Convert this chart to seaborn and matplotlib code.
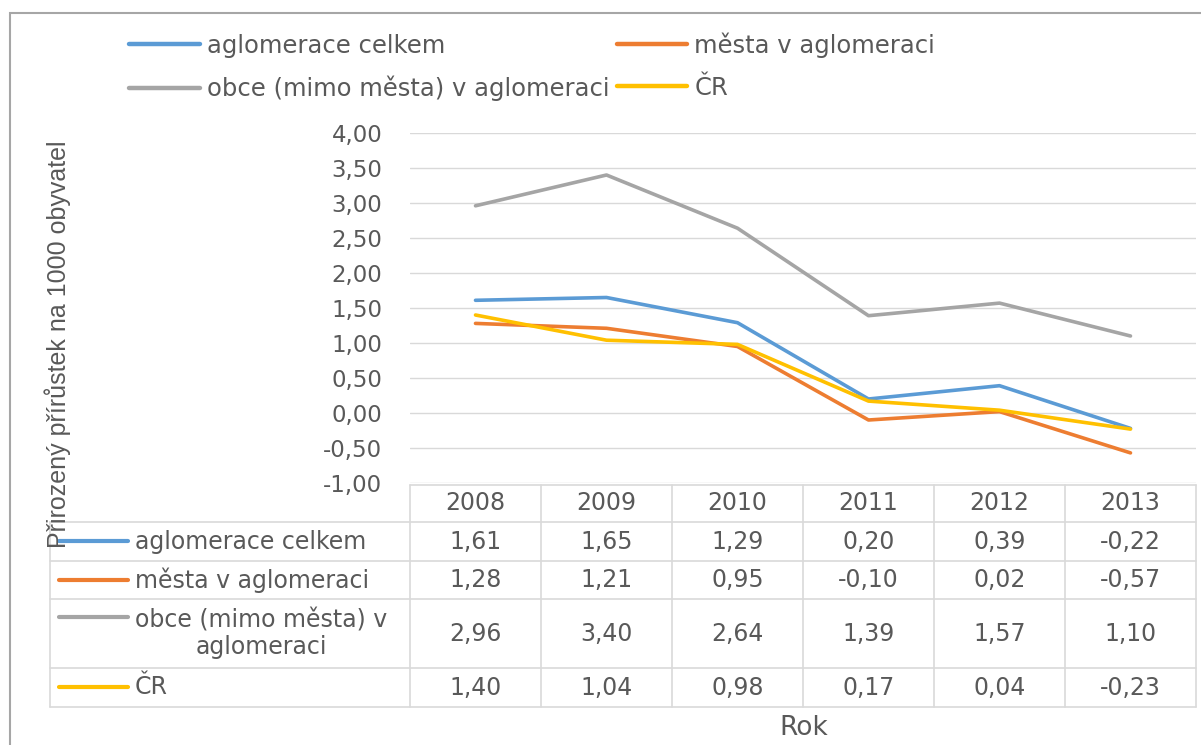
import numpy as np
import pandas as pd
import matplotlib
matplotlib.use("Agg")
import matplotlib.pyplot as plt
from matplotlib.lines import Line2D
from matplotlib.patches import Rectangle
import seaborn as sns

years = [2008, 2009, 2010, 2011, 2012, 2013]
series_names = ["aglomerace celkem", "města v aglomeraci",
                "obce (mimo města) v aglomeraci", "ČR"]
aglomerace = [1.61, 1.65, 1.29, 0.20, 0.39, -0.22]
mesta = [1.28, 1.21, 0.95, -0.10, 0.02, -0.57]
obce = [2.96, 3.40, 2.64, 1.39, 1.57, 1.10]
cr = [1.40, 1.04, 0.98, 0.17, 0.04, -0.23]
colors = ["#5B9BD5", "#ED7D31", "#A5A5A5", "#FFC000"]
y_ticks = [-1.0, -0.5, 0.0, 0.5, 1.0, 1.5, 2.0, 2.5, 3.0, 3.5, 4.0]

values = [aglomerace, mesta, obce, cr]
df = pd.DataFrame({
    "Rok": years * 4,
    "hodnota": aglomerace + mesta + obce + cr,
    "rada": [n for n in series_names for _ in years],
})

sns.set_theme(style="white")
plt.rcParams["font.family"] = ["DejaVu Sans"]
txt = "#595959"
grid_c = "#d9d9d9"

W, H = 1201, 745
fig = plt.figure(figsize=(W / 100, H / 100), dpi=100)

def fx(px):
    return px / W

def fy(py):
    return 1 - py / H

# main plot area
ax = fig.add_axes([fx(410), fy(483), (1196 - 410) / W, (483 - 133) / H])
sns.lineplot(data=df, x="Rok", y="hodnota", hue="rada", hue_order=series_names,
             palette=colors, linewidth=2.6, sort=False, errorbar=None, ax=ax)
for ln in ax.lines:
    ln.set_solid_joinstyle("round")
    ln.set_solid_capstyle("round")
ax.get_legend().remove()

ax.set_xlim(years[0] - 0.5, years[-1] + 0.5)
ax.set_ylim(-1, 4)
ax.set_yticks(y_ticks)
ax.set_yticklabels([f"{v:.2f}".replace(".", ",") for v in y_ticks])
ax.set_xticks([])
ax.set_xlabel("")
ax.set_ylabel("")
ax.tick_params(axis="y", length=0, labelsize=16.5, labelcolor=txt, pad=20)
ax.yaxis.grid(True, color=grid_c, linewidth=1)
for s in ax.spines.values():
    s.set_visible(False)
ax.patch.set_alpha(0)

# top legend (row-wise order like Excel)
order = [0, 2, 1, 3]
leg_handles = [Line2D([], [], color=colors[i], lw=3.2, solid_capstyle="round") for i in order]
fig.legend(leg_handles, [series_names[i] for i in order], ncol=2, frameon=False,
           loc="upper left", bbox_to_anchor=(fx(117), fy(20)), borderpad=0,
           fontsize=17.5, handlelength=2.9, handletextpad=0.3, columnspacing=0.3,
           labelspacing=0.75, labelcolor=txt)

# data table under the plot
tax = fig.add_axes([fx(50), fy(707), (1196 - 50) / W, (707 - 485) / H])
label_w = (410 - 50) / 131
tax.set_xlim(years[0] - 0.5 - label_w, years[-1] + 0.5)
tax.set_ylim(707, 485)
tax.axis("off")

def px2x(px):
    return years[0] - 0.5 - label_w + (px - 50) / 131

rows = [485, 522, 561, 599, 668, 707]
left = years[0] - 0.5
right = years[-1] + 0.5
tax.plot([left, right], [rows[0], rows[0]], color=grid_c, lw=1.2, clip_on=False)
for r in rows[1:]:
    tax.plot([px2x(50), right], [r, r], color=grid_c, lw=1.2, clip_on=False)
for b in np.arange(left, right + 0.01, 1.0):
    tax.plot([b, b], [rows[0], rows[-1]], color=grid_c, lw=1.2, clip_on=False)
tax.plot([px2x(50), px2x(50)], [rows[1], rows[-1]], color=grid_c, lw=1.2, clip_on=False)

for y in years:
    tax.text(y, (rows[0] + rows[1]) / 2, str(y), ha="center", va="center",
             fontsize=17, color=txt)

row_labels = ["aglomerace celkem", "města v aglomeraci",
              "obce (mimo města) v\naglomeraci", "ČR"]
handle_y = [541, 580, 617, 687]
for i in range(4):
    yc = (rows[i + 1] + rows[i + 2]) / 2
    tax.plot([px2x(59), px2x(128)], [handle_y[i], handle_y[i]], color=colors[i],
             lw=3.0, solid_capstyle="round", clip_on=False)
    tax.text(px2x(135), yc, row_labels[i], ha="left", va="center",
             multialignment="center", fontsize=17, color=txt, linespacing=1.15)
    for y, v in zip(years, values[i]):
        tax.text(y, yc, f"{v:.2f}".replace(".", ","), ha="center", va="center",
                 fontsize=17, color=txt)

# axis titles
fig.text(fx(58), fy(344), "Přirozený přírůstek na 1000 obyvatel", rotation=90,
         ha="center", va="center", fontsize=18, color=txt,
         family=["Liberation Sans", "DejaVu Sans"])
fig.text(fx(804), fy(728), "Rok", ha="center", va="center", fontsize=19, color=txt)

# chart frame (cropped at right/bottom)
fig.add_artist(Rectangle((fx(9.5), -0.1), 1.2, fy(13) + 0.1, transform=fig.transFigure,
                         fill=False, edgecolor="#a6a6a6", lw=1.5))

fig.savefig("out.png", dpi=100)
